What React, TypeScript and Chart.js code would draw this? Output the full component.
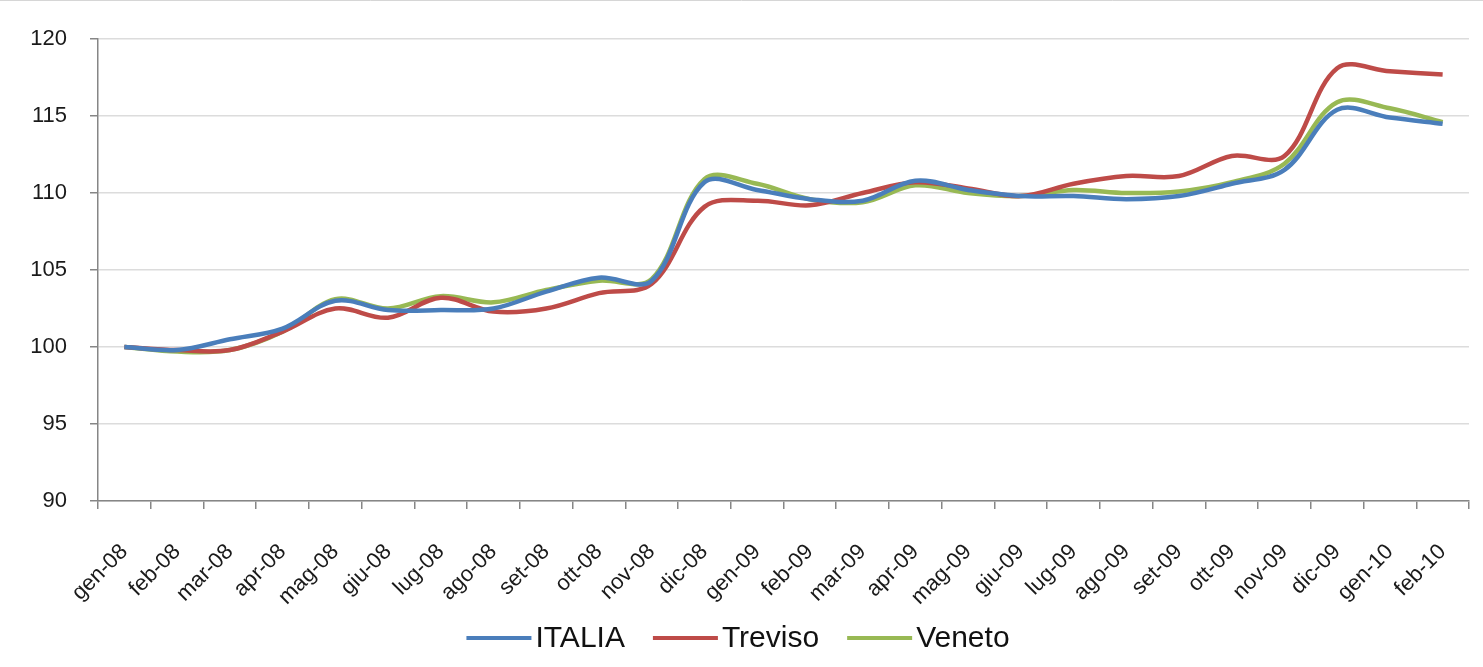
import React, { useEffect, useRef } from 'react';
import { Chart, registerables } from 'chart.js';

Chart.register(...registerables);

const months = [
  'gen-08', 'feb-08', 'mar-08', 'apr-08', 'mag-08', 'giu-08', 'lug-08', 'ago-08', 'set-08', 'ott-08', 'nov-08', 'dic-08',
  'gen-09', 'feb-09', 'mar-09', 'apr-09', 'mag-09', 'giu-09', 'lug-09', 'ago-09', 'set-09', 'ott-09', 'nov-09', 'dic-09',
  'gen-10', 'feb-10',
];

const italia = [
  100.0, 99.8, 100.5, 101.2, 103.0, 102.4, 102.4, 102.5, 103.6, 104.5, 104.3, 110.7,
  110.2, 109.6, 109.5, 110.8, 110.2, 109.8, 109.8, 109.6, 109.8, 110.6, 111.5, 115.4,
  114.9, 114.5,
];

const treviso = [
  100.0, 99.8, 99.8, 101.0, 102.5, 101.9, 103.2, 102.3, 102.5, 103.5, 104.1, 109.1,
  109.5, 109.2, 110.0, 110.7, 110.3, 109.8, 110.6, 111.1, 111.1, 112.4, 112.4, 118.1,
  117.9, 117.7,
];

const veneto = [
  100.0, 99.7, 99.8, 101.0, 103.1, 102.5, 103.3, 102.9, 103.7, 104.3, 104.4, 110.9,
  110.6, 109.6, 109.4, 110.5, 110.0, 109.8, 110.2, 110.0, 110.1, 110.7, 111.9, 115.9,
  115.5, 114.6,
];

const yMin = 90;
const yMax = 120;
const yStep = 5;

const seriesNames = ['ITALIA', 'Treviso', 'Veneto'];
const seriesColors = ['#4A7EBB', '#BE4B48', '#98B954'];

const legendPlugin = {
  id: 'customLegend',
  afterDraw(chart: any) {
    const ctx = chart.ctx;
    ctx.save();
    // faint top border
    ctx.strokeStyle = '#d6d6d6';
    ctx.lineWidth = 1;
    ctx.beginPath();
    ctx.moveTo(0, 0.5);
    ctx.lineTo(chart.width, 0.5);
    ctx.stroke();

    ctx.font = '30px "Liberation Sans", Arial, sans-serif';
    const lineLen = 65;
    const gapText = 4;
    const gapItem = 28;
    const items = chart.data.datasets.map((ds: any) => ({
      label: ds.label,
      color: ds.borderColor,
      w: ctx.measureText(ds.label).width,
    }));
    const total =
      items.reduce((s: number, it: any) => s + lineLen + gapText + it.w, 0) + gapItem * (items.length - 1);
    let x = 738 - total / 2;
    const y = 638;
    ctx.textBaseline = 'middle';
    ctx.textAlign = 'left';
    ctx.fillStyle = '#111';
    for (const it of items) {
      ctx.strokeStyle = it.color;
      ctx.lineWidth = 4;
      ctx.beginPath();
      ctx.moveTo(x, y);
      ctx.lineTo(x + lineLen, y);
      ctx.stroke();
      ctx.fillText(it.label, x + lineLen + gapText, y + 1);
      x += lineLen + gapText + it.w + gapItem;
    }
    ctx.restore();
  },
};

export default function App() {
  const canvasRef = useRef<HTMLCanvasElement | null>(null);

  useEffect(() => {
    const canvas = canvasRef.current;
    if (!canvas) return;
    const series = [italia, treviso, veneto];
    const chart = new Chart(canvas, {
      type: 'line',
      data: {
        labels: months,
        datasets: series.map((data, i) => ({
          label: seriesNames[i],
          data,
          borderColor: seriesColors[i],
          backgroundColor: seriesColors[i],
          borderWidth: 4.5,
          pointRadius: 0,
          pointHoverRadius: 0,
          tension: 0.35,
          fill: false,
        })),
      },
      options: {
        responsive: false,
        animation: false,
        devicePixelRatio: 1,
        layout: { padding: { top: 39, right: 14, left: 0, bottom: 0 } },
        plugins: {
          legend: { display: false },
          tooltip: { enabled: false },
        },
        scales: {
          x: {
            type: 'category',
            offset: true,
            grid: {
              display: true,
              drawOnChartArea: false,
              drawTicks: true,
              tickLength: 8,
              offset: true,
              color: '#868686',
              tickColor: '#868686',
              lineWidth: 1.5,
            },
            border: { display: true, color: '#868686', width: 1.5 },
            ticks: {
              font: { family: '"Liberation Sans", Arial, sans-serif', size: 22 },
              color: '#1a1a1a',
              minRotation: 45,
              maxRotation: 45,
              autoSkip: false,
              padding: 30,
            },
            afterFit: (s: any) => {
              s.height = 166;
              s.paddingLeft = 0;
              s.paddingRight = 0;
            },
          },
          y: {
            min: yMin,
            max: yMax,
            ticks: {
              stepSize: yStep,
              font: { family: '"Liberation Sans", Arial, sans-serif', size: 22 },
              color: '#1a1a1a',
              padding: 23,
            },
            grid: {
              color: '#dcdcdc',
              lineWidth: 1.5,
              tickLength: 8,
              tickColor: '#868686',
              drawTicks: true,
            },
            border: { display: true, color: '#868686', width: 1.5 },
            afterFit: (s: any) => {
              s.width = 98;
              s.paddingTop = 0;
              s.paddingBottom = 0;
            },
          },
        },
      },
      plugins: [legendPlugin],
    });
    return () => chart.destroy();
  }, []);

  return (
    <div style={{ position: 'absolute', left: 0, top: 0, width: 1483, height: 667, background: '#fff' }}>
      <canvas ref={canvasRef} width={1483} height={667} style={{ display: 'block' }} />
    </div>
  );
}
